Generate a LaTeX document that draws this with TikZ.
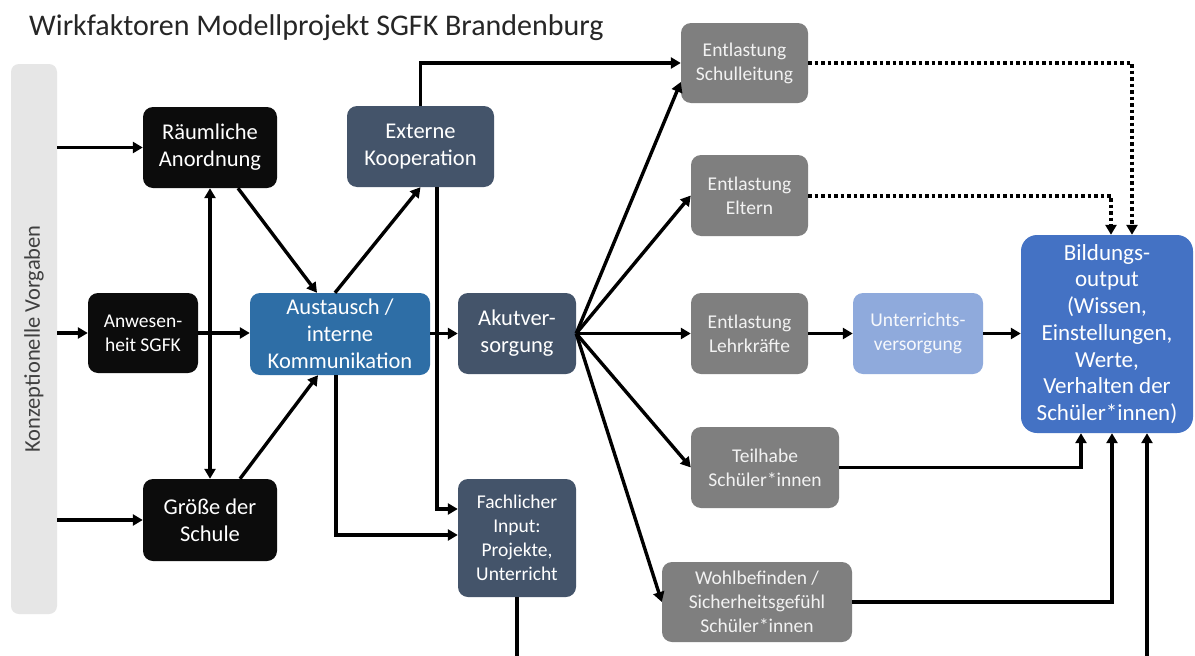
\documentclass[tikz,border=0pt]{standalone}
\usepackage{fontspec}
\setmainfont{Carlito}
\usetikzlibrary{arrows.meta,calc}
\definecolor{boxblack}{RGB}{12,12,12}
\definecolor{austblue}{RGB}{46,110,166}
\definecolor{slate}{RGB}{68,84,106}
\definecolor{boxgray}{RGB}{127,127,127}
\definecolor{lightblue}{RGB}{143,170,220}
\definecolor{outblue}{RGB}{68,114,196}
\definecolor{barbg}{RGB}{230,230,230}
\definecolor{bartext}{RGB}{64,64,64}
\tikzset{
  box/.style={rounded corners=10pt, inner sep=0pt, align=center, text=white},
  bigtxt/.style={font=\fontsize{22.5}{27}\selectfont},
  smalltxt/.style={font=\fontsize{19.5}{24}\selectfont},
  arr/.style={line width=3.4pt, -{Triangle[length=10pt,width=11pt]}},
  darr/.style={line width=3.4pt, {Triangle[length=10pt,width=11pt]}-{Triangle[length=10pt,width=11pt]}},
  ln/.style={line width=3.4pt},
  dotarr/.style={line width=4pt, dash pattern=on 3.5pt off 3pt, -{Triangle[length=10pt,width=11pt]}},
}
\begin{document}
\begin{tikzpicture}[x=1pt,y=-1pt]
\useasboundingbox (0,0) rectangle (1195,656);
\fill[white] (0,0) rectangle (1195,656);

% title
\node[anchor=base west, inner sep=0pt, font=\fontsize{30}{34}\selectfont, text=black!85] (title) at (29,35) {Wirkfaktoren Modellprojekt SGFK Brandenburg};

% left bar
\node[rounded corners=8pt, fill=barbg, minimum width=46pt, minimum height=550pt, inner sep=0pt] (bar) at (34,339) {};
\node[rotate=90, text=bartext, font=\fontsize{22.5}{27}\selectfont] (bartxt) at (34,339) {Konzeptionelle Vorgaben};

% nodes
\node[box, bigtxt, fill=boxblack, minimum width=134pt, minimum height=81pt] (raum) at (210,147.5) {Räumliche\\Anordnung};
\node[box, smalltxt, fill=boxblack, minimum width=110pt, minimum height=80pt] (anw) at (143,333) {Anwesen-\\heit SGFK};
\node[box, bigtxt, fill=austblue, minimum width=180pt, minimum height=82pt] (aus) at (340,334) {Austausch /\\interne\\Kommunikation};
\node[box, bigtxt, fill=boxblack, minimum width=134pt, minimum height=82pt] (gro) at (210,520) {Größe der\\Schule};
\node[box, bigtxt, fill=slate, minimum width=147pt, minimum height=81pt] (ext) at (420.5,146.5) {Externe\\Kooperation};
\node[box, bigtxt, fill=slate, minimum width=118pt, minimum height=81pt] (akut) at (517,333.5) {Akutver-\\sorgung};
\node[box, smalltxt, fill=slate, minimum width=118pt, minimum height=118pt] (fach) at (517,538) {Fachlicher\\Input:\\Projekte,\\Unterricht};
\node[box, smalltxt, fill=boxgray, text=white!95!black, minimum width=127pt, minimum height=80pt] (esl) at (744.5,63) {Entlastung\\Schulleitung};
\node[box, smalltxt, fill=boxgray, text=white!95!black, minimum width=117pt, minimum height=81pt] (eel) at (749.5,195.5) {Entlastung\\Eltern};
\node[box, smalltxt, fill=boxgray, text=white!95!black, minimum width=117pt, minimum height=81pt] (elk) at (749.5,333.5) {Entlastung\\Lehrkräfte};
\node[box, smalltxt, fill=boxgray, text=white!95!black, minimum width=148pt, minimum height=81pt] (teil) at (765,467.5) {Teilhabe\\Schüler*innen};
\node[box, smalltxt, fill=boxgray, text=white!95!black, minimum width=190pt, minimum height=80pt] (wohl) at (757,602) {Wohlbefinden /\\Sicherheitsgefühl\\Schüler*innen};
\node[box, smalltxt, fill=lightblue, text=white!92!lightblue, minimum width=130pt, minimum height=81pt] (unt) at (918,333.5) {Unterrichts-\\versorgung};
\node[box, font=\fontsize{23}{26.7}\selectfont, fill=outblue, rounded corners=16pt, minimum width=172pt, minimum height=198pt] (bild) at (1107,334) {Bildungs-\\output\\(Wissen,\\Einstellungen,\\Werte,\\Verhalten der\\Schüler*innen)};

\coordinate (fbot) at (517,660);
\coordinate (bbot) at (1147,660);

% connectors
\draw[arr] (bar.east |- raum.west) -- (raum.west);
\draw[arr] (bar.east |- anw.west) -- (anw.west);
\draw[arr] (bar.east |- gro.west) -- (gro.west);
\draw[arr] (anw.east) -- (aus.west |- anw.east);
\draw[darr] (raum.south) -- (gro.north);
\draw[arr] ([xshift=28pt]raum.south) -- ([xshift=-23pt]aus.north);
\draw[arr] ([xshift=30pt]gro.north) -- ([xshift=-22pt]aus.south);
\draw[arr] ([xshift=-5pt]aus.north) -- (ext.south);
\draw[arr] (ext.north) |- (esl.west);
\draw[arr] ([xshift=16.5pt]ext.south) |- ([yshift=29pt]fach.west);
\draw[arr] ([xshift=-4pt]aus.south) |- ([yshift=3pt]fach.west);
\draw[arr] (aus.east |- akut.west) -- (akut.west);
\draw[arr] (akut.east) -- ([yshift=-19pt]esl.west);
\draw[arr] (akut.east) -- (eel.west);
\draw[arr] (akut.east) -- (elk.west);
\draw[arr] (akut.east) -- (teil.west);
\draw[arr] (akut.east) -- (wohl.west);
\draw[arr] (elk.east) -- (unt.west);
\draw[arr] (unt.east) -- (bild.west |- unt.east);
\draw[dotarr] (esl.east) -| ([xshift=25pt]bild.north);
\draw[dotarr] (eel.east) -| ([xshift=4pt]bild.north);
\draw[arr] (teil.east) -| ([xshift=-26pt]bild.south);
\draw[arr] (wohl.east) -| ([xshift=5pt]bild.south);
\draw[arr] (bbot) -- (bbot |- bild.south);
\draw[ln] (fach.south) -- (fbot);
\end{tikzpicture}
\end{document}
